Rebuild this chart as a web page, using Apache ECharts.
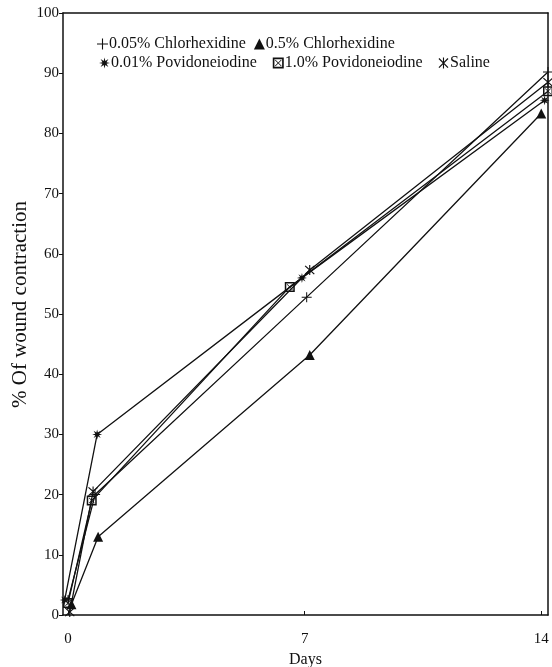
<!DOCTYPE html>
<html><head><meta charset="utf-8">
<script src="https://cdn.jsdelivr.net/npm/echarts@6/dist/echarts.min.js"></script>
<style>html,body{margin:0;padding:0;background:#fff}#c{width:552px;height:667px}</style>
</head><body><div id="c"></div>
<script>
const seriesNames = ['0.05% Chlorhexidine','0.5% Chlorhexidine','0.01% Povidoneiodine','1.0% Povidoneiodine','Saline'];
const daysChx005 = [0, 0.8, 7.06, 14.2];
const valChx005  = [2.5, 20, 52.8, 90.2];
const daysChx05  = [0.1, 0.89, 7.15, 14];
const valChx05   = [1.8, 13, 43.2, 83.3];
const daysPvp001 = [-0.1, 0.86, 6.92, 14.1];
const valPvp001  = [2.5, 30, 56, 85.5];
const daysPvp1   = [0, 0.7, 6.56, 14.2];
const valPvp1    = [2, 19, 54.5, 87];
const daysSaline = [0.05, 0.74, 7.15, 14.2];
const valSaline  = [0.5, 20.5, 57.3, 88.5];
const xTicks = [0, 7, 14];

function pairs(d, v){ return d.map((x,i)=>[x, v[i]]); }
function starPath(n, ro, ri){
  let s = 'path://';
  for(let i=0;i<2*n;i++){
    const r = i%2===0 ? ro : ri;
    const a = Math.PI*i/n - Math.PI/2;
    s += (i===0?'M':'L') + (10+r*Math.cos(a)).toFixed(2) + ',' + (10+r*Math.sin(a)).toFixed(2);
  }
  return s + 'Z';
}
const SYM_PLUS = 'path://M0,9L20,9L20,11L0,11Z M9,0L11,0L11,20L9,20Z';
const SYM_STAR = starPath(8, 10, 4);
const SYM_SQ = 'path://M0,0L20,0L20,20L0,20Z M3,3L3,17L17,17L17,3Z M4,5L5,4L16,15L15,16Z M15,4L16,5L5,16L4,15Z';
const SYM_X = 'path://M1,2.5L2.5,1L19,17.5L17.5,19Z M17.5,1L19,2.5L2.5,19L1,17.5Z M9,0L11,0L11,20L9,20Z';
const symbols = [SYM_PLUS, 'triangle', SYM_STAR, SYM_SQ, SYM_X];
const dataSets = [pairs(daysChx005,valChx005), pairs(daysChx05,valChx05), pairs(daysPvp001,valPvp001), pairs(daysPvp1,valPvp1), pairs(daysSaline,valSaline)];

const FONT = '"Liberation Serif","DejaVu Serif",serif';
const chart = echarts.init(document.getElementById('c'));
chart.setOption({
  animation:false,
  backgroundColor:'#fff',
  grid:{left:63, right:4, top:13, bottom:52, containLabel:false, outerBoundsMode:'none'},
  legend:[
    {left:92, top:31, itemWidth:11, itemHeight:11, itemGap:8,
     textStyle:{fontFamily:FONT, fontSize:16, color:'#111', padding:[0,0,0,-4]},
     data:[{name:seriesNames[0], icon:SYM_PLUS},{name:seriesNames[1], icon:'triangle'}]},
    {left:94, top:50, itemWidth:11, itemHeight:11, itemGap:16,
     textStyle:{fontFamily:FONT, fontSize:16, color:'#111', padding:[0,0,0,-4]},
     data:[{name:seriesNames[2], icon:SYM_STAR},{name:seriesNames[3], icon:SYM_SQ},{name:seriesNames[4], icon:SYM_X}]}
  ],
  xAxis:[
    {type:'value', min:-0.15, max:14.2, name:'Days', nameLocation:'middle', nameGap:36,
     nameTextStyle:{fontFamily:FONT, fontSize:16, color:'#111'},
     axisLine:{lineStyle:{color:'#111', width:1.5}},
     axisTick:{show:true, inside:true, length:4, customValues:xTicks, lineStyle:{color:'#111'}},
     axisLabel:{customValues:xTicks, fontFamily:FONT, fontSize:15, color:'#111', margin:17},
     splitLine:{show:false}},
    {type:'value', position:'top', min:-0.15, max:14.2,
     axisLine:{show:true, onZero:false, lineStyle:{color:'#111', width:1.5}},
     axisTick:{show:false}, axisLabel:{show:false}, splitLine:{show:false}}
  ],
  yAxis:[
    {type:'value', min:0, max:100, interval:10,
     axisLine:{show:true, onZero:false, lineStyle:{color:'#111', width:1.5}},
     axisTick:{show:true, length:4, lineStyle:{color:'#111'}},
     axisLabel:{fontFamily:FONT, fontSize:15, color:'#111', margin:4},
     splitLine:{show:false}},
    {type:'value', position:'right', min:0, max:100,
     axisLine:{show:true, onZero:false, lineStyle:{color:'#111', width:1.5}},
     axisTick:{show:false}, axisLabel:{show:false}, splitLine:{show:false}}
  ],
  graphic:[{type:'text', x:20, y:408, rotation:Math.PI/2,
    style:{text:'% Of wound contraction', font:'21px '+FONT, fill:'#111', textAlign:'left', textVerticalAlign:'middle'}}],
  series: seriesNames.map((n,i)=>({
    name:n, type:'line', data:dataSets[i], symbol:symbols[i], symbolSize:10,
    showSymbol:true, color:'#111',
    lineStyle:{color:'#111', width:1.3}, itemStyle:{color:'#111'}
  }))
});
</script></body></html>
